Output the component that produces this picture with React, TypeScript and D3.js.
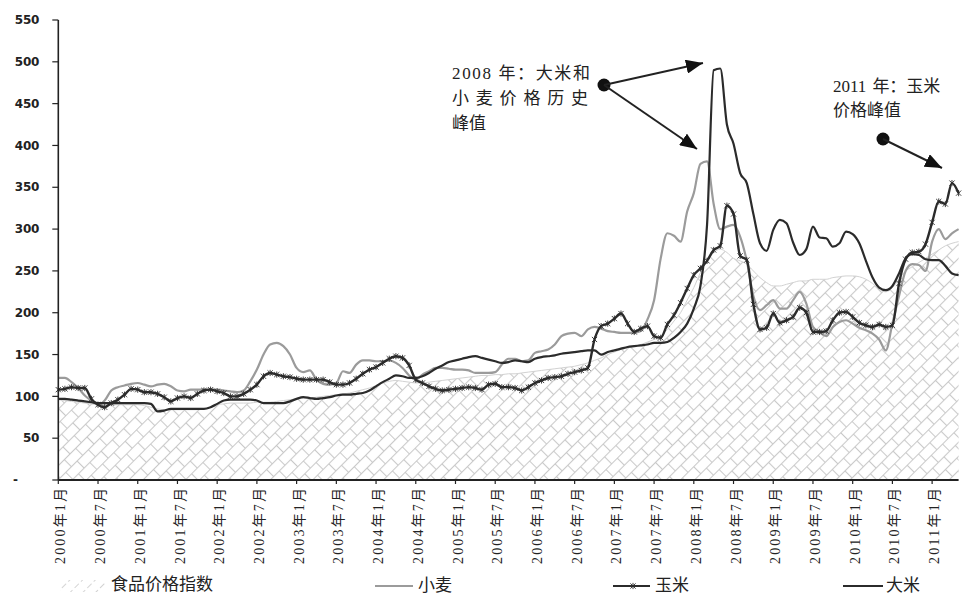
import * as d3 from "d3";

const W = 966;
const H = 596;
const LEFT = 58.3;
const RIGHT = 958.6;
const BOTTOM = 480;
const TOP = 20;

// monthly values, Jan 2000 .. May 2011
const wheat = [
  122, 122, 117, 110, 101, 95, 90, 95, 107, 111, 113, 115,
  116, 114, 112, 114, 115, 112, 107, 106, 108, 108, 108, 108,
  108, 107, 106, 105, 107, 118, 132, 150, 162, 164, 160, 150,
  134, 129, 131, 120, 115, 114, 116, 130, 128, 138, 143, 143,
  142, 142, 143, 140, 134, 125, 120, 126, 130, 134, 134, 133,
  132, 132, 131, 128, 128, 128, 129, 138, 145, 145, 142, 143,
  152, 154, 156, 162, 172, 175, 176, 172, 180, 183, 181, 178,
  177, 176, 176, 176, 178, 192, 215, 265, 295, 292, 285, 321,
  343, 378, 381, 330, 300, 303, 305, 291, 262, 220, 203, 209,
  215, 205, 205, 215, 225, 211, 183, 177, 172, 183, 189, 191,
  187, 182, 179, 175, 168, 155, 187, 220, 250, 258, 257, 250,
  285, 300, 288, 295, 300,
];

const corn = [
  108, 109, 111, 110, 110, 97, 90, 87, 92, 96, 102, 109,
  108, 105, 105, 103, 99, 94, 98, 100, 98, 103, 107, 108,
  106, 104, 100, 100, 103, 108, 114, 124, 128, 126, 124, 123,
  121, 120, 120, 120, 120, 117, 114, 114, 116, 121, 127, 132,
  135, 140, 145, 148, 146, 137, 120, 116, 112, 109, 107, 108,
  109, 110, 111, 110, 108, 114, 115, 111, 111, 110, 107, 111,
  116, 119, 122, 123, 124, 127, 129, 131, 134, 168, 184, 187,
  193, 199, 187, 177, 181, 184, 172, 170, 186, 197, 212, 229,
  245, 253, 262, 275, 280, 328, 318, 268, 263, 210, 180, 182,
  199, 188, 191, 195, 206, 200, 177, 177, 178, 191, 200, 201,
  195, 188, 185, 183, 186, 183, 185, 235, 264, 272, 273, 282,
  308, 333, 330, 355, 343,
];

const rice = [
  97, 97, 96, 95, 94, 93, 92, 92, 92, 92, 92, 92,
  92, 92, 91, 82, 83, 85, 85, 85, 85, 85, 85, 87,
  91, 95, 96, 96, 96, 96, 95, 92, 92, 92, 92, 94,
  97, 99, 98, 97, 98, 99, 101, 102, 102, 103, 104, 107,
  112, 117, 121, 125, 124, 122, 122, 124, 128, 133, 137, 141,
  143, 145, 147, 148, 146, 144, 142, 140, 141, 143, 142, 141,
  145, 147, 148, 149, 151, 152, 153, 154, 155, 155, 150, 153,
  155, 157, 159, 160, 161, 162, 164, 164, 165, 170, 177, 187,
  205, 232, 305, 490, 492, 425, 402, 367, 355, 318, 283, 274,
  299, 311, 307, 284, 269, 276, 303, 290, 289, 279, 283, 297,
  294, 283, 262, 242, 230, 227, 232, 247, 265, 270, 269, 264,
  263, 263, 256, 247, 245,
];

const food = [
  96, 95, 94, 93, 92, 91, 90, 90, 90, 90, 90, 90,
  90, 89, 87, 85, 84, 84, 84, 84, 84, 84, 85, 87,
  90, 91, 92, 92, 92, 92, 93, 93, 93, 94, 95, 96,
  97, 98, 98, 99, 100, 101, 102, 103, 104, 106, 108, 110,
  113, 116, 118, 119, 118, 117, 116, 116, 117, 118, 119, 120,
  121, 122, 123, 124, 125, 125, 126, 126, 127, 127, 128, 129,
  130, 131, 132, 133, 134, 135, 136, 138, 140, 143, 146, 150,
  153, 156, 158, 160, 162, 165, 168, 172, 180, 190, 200, 215,
  230, 248, 262, 272, 276, 272, 265, 262, 258, 250, 242, 236,
  232, 232, 234, 236, 238, 238, 240, 240, 240, 242, 243, 244,
  244, 243, 240, 235, 228, 225, 230, 240, 250, 255, 260, 265,
  270, 275, 280, 283, 285,
];

const tickLabels = [
  "2000年1月", "2000年7月", "2001年1月", "2001年7月", "2002年1月", "2002年7月",
  "2003年1月", "2003年7月", "2004年1月", "2004年7月", "2005年1月", "2005年7月",
  "2006年1月", "2006年7月", "2007年1月", "2007年7月", "2008年1月", "2008年7月",
  "2009年1月", "2009年7月", "2010年1月", "2010年7月", "2011年1月",
];

const yTicks = [0, 50, 100, 150, 200, 250, 300, 350, 400, 450, 500, 550];

const SERIF = "'Liberation Serif', 'Noto Sans CJK SC', serif";
const INK = "#2b2b2b";
const GREY = "#9b9b9b";
const HATCH = "#c9c9c9";

function Star({ cx, cy, s = 2.6 }: { cx: number; cy: number; s?: number }) {
  return (
    <g stroke={INK} strokeWidth={0.9}>
      <line x1={cx - s} x2={cx + s} y1={cy - s} y2={cy + s} />
      <line x1={cx - s} x2={cx + s} y1={cy + s} y2={cy - s} />
      <line x1={cx} x2={cx} y1={cy - s - 0.5} y2={cy + s + 0.5} />
    </g>
  );
}

export default function App() {
  const n = wheat.length;
  const x = d3.scaleLinear().domain([0, n - 1]).range([LEFT, RIGHT]);
  const y = d3.scaleLinear().domain([0, 550]).range([BOTTOM, TOP]);

  const line = d3
    .line<number>()
    .x((_, i) => x(i))
    .y((d) => y(d))
    .curve(d3.curveMonotoneX);
  const area = d3
    .area<number>()
    .x((_, i) => x(i))
    .y0(y(0))
    .y1((d) => y(d))
    .curve(d3.curveMonotoneX);

  return (
    <svg
      width={W}
      height={H}
      style={{ position: "absolute", left: 0, top: 0, background: "#fff" }}
      fontFamily={SERIF}
    >
      <defs>
        <pattern id="brick" patternUnits="userSpaceOnUse" width={16} height={20} patternTransform="rotate(-45)">
          <g stroke={HATCH} strokeWidth={1.1} fill="none">
            <line x1={0} x2={16} y1={0.5} y2={0.5} />
            <line x1={0} x2={16} y1={10.5} y2={10.5} />
            <line x1={0.5} x2={0.5} y1={0} y2={10.5} />
            <line x1={8.5} x2={8.5} y1={10.5} y2={20} />
          </g>
        </pattern>
        <pattern id="brickFaint" patternUnits="userSpaceOnUse" width={9} height={9} patternTransform="rotate(-45)">
          <line x1={0} x2={9} y1={0.5} y2={0.5} stroke="#d4d4d4" strokeWidth={1} strokeDasharray="3 3" />
        </pattern>
        <marker id="arrow" markerUnits="userSpaceOnUse" markerWidth={18} markerHeight={14} refX={17} refY={7} orient="auto">
          <path d="M0,0 L17,7 L0,14 Z" fill="#111" />
        </marker>
      </defs>

      {/* food price index, hatched */}
      <path d={area(food) ?? ""} fill="url(#brick)" />
      <path d={line(food) ?? ""} fill="none" stroke="#d2d2d2" strokeWidth={1} />

      {/* wheat */}
      <path d={line(wheat) ?? ""} fill="none" stroke={GREY} strokeWidth={2.2} />
      {/* rice */}
      <path d={line(rice) ?? ""} fill="none" stroke={INK} strokeWidth={2.2} />
      {/* corn with markers */}
      <path d={line(corn) ?? ""} fill="none" stroke={INK} strokeWidth={2.4} />
      {corn.map((d, i) => (
        <Star key={i} cx={x(i)} cy={y(d)} />
      ))}

      {/* y axis */}
      <line x1={LEFT} x2={LEFT} y1={TOP} y2={BOTTOM} stroke="#222" strokeWidth={1.6} />
      {yTicks.map((t) => (
        <g key={t}>
          <line x1={LEFT - 6} x2={LEFT} y1={y(t)} y2={y(t)} stroke="#222" strokeWidth={1.2} />
          {t === 0 ? (
            <text x={13} y={y(t)} dy="0.35em" fontSize={12} fontWeight={700} fontFamily="'DejaVu Sans', sans-serif" fill="#222">
              -
            </text>
          ) : (
            <text x={39} y={y(t)} dy="0.35em" textAnchor="end" fontSize={12} fontWeight={700} fontFamily="'DejaVu Sans', sans-serif" fill="#222" letterSpacing={-0.3}>
              {t}
            </text>
          )}
        </g>
      ))}

      {/* x axis */}
      <line x1={LEFT} x2={RIGHT} y1={BOTTOM} y2={BOTTOM} stroke="#222" strokeWidth={2} />
      {tickLabels.map((lab, i) => {
        const tx = x(i * 6);
        return (
          <g key={lab}>
            <line x1={tx} x2={tx} y1={BOTTOM} y2={BOTTOM + 4} stroke="#222" strokeWidth={1.2} />
            <text
              transform={`translate(${tx + 2},488) rotate(-90)`}
              dy="0.36em"
              textAnchor="end"
              fontSize={14}
              textLength={76}
              lengthAdjust="spacing"
              fill="#222"
            >
              {lab}
            </text>
          </g>
        );
      })}

      {/* annotations */}
      <g fontSize={17} fill="#222">
        <text x={452} y={79} textLength={138} lengthAdjust="spacing">2008 年：大米和</text>
        <text x={452} y={104} textLength={136} lengthAdjust="spacing">小麦价格历史</text>
        <text x={452} y={129}>峰值</text>
        <text x={833} y={92}>
          2011<tspan dx={6}>年：玉米</tspan>
        </text>
        <text x={833} y={116}>价格峰值</text>
      </g>
      <circle cx={604} cy={85} r={6.5} fill="#111" />
      <line x1={604} y1={85} x2={703} y2={63} stroke="#222" strokeWidth={2} markerEnd="url(#arrow)" />
      <line x1={604} y1={85} x2={697} y2={149} stroke="#222" strokeWidth={2} markerEnd="url(#arrow)" />
      <circle cx={883} cy={139} r={6.5} fill="#111" />
      <line x1={883} y1={139} x2={942} y2={168} stroke="#222" strokeWidth={2} markerEnd="url(#arrow)" />

      {/* legend */}
      <g fontSize={17} fill="#222">
        <rect x={60} y={580} width={46} height={12} fill="url(#brickFaint)" />
        <text x={111} y={590}>食品价格指数</text>
        <line x1={375} x2={413} y1={586} y2={586} stroke={GREY} strokeWidth={2} />
        <text x={418} y={591}>小麦</text>
        <line x1={613} x2={650} y1={586} y2={586} stroke={INK} strokeWidth={2} />
        <Star cx={633} cy={586} />
        <text x={655} y={591}>玉米</text>
        <line x1={843} x2={883} y1={586} y2={586} stroke={INK} strokeWidth={2} />
        <text x={886} y={591}>大米</text>
      </g>
    </svg>
  );
}
